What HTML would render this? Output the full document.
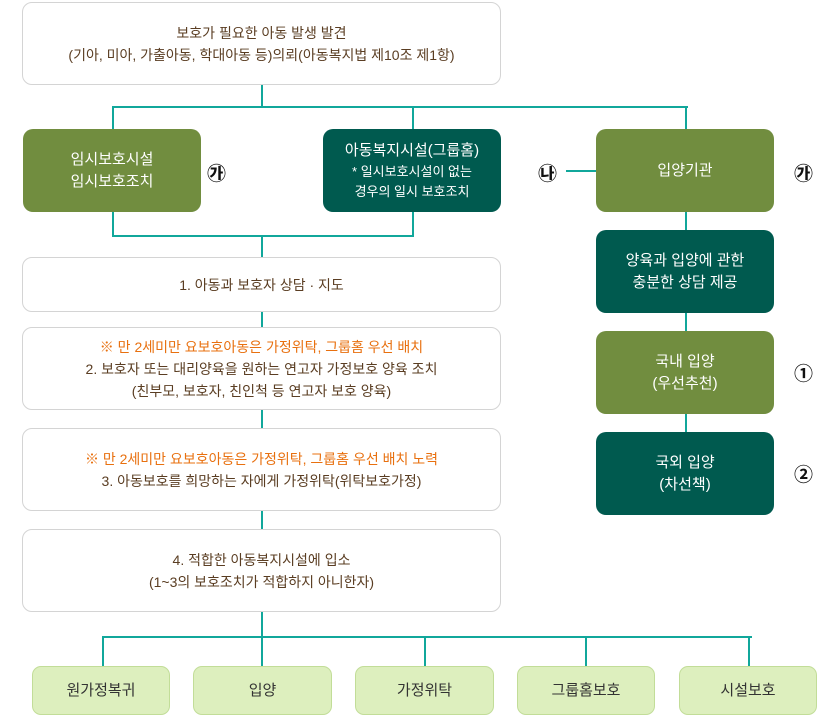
<!DOCTYPE html>
<html><head><meta charset="utf-8"><style>
body{margin:0;width:840px;height:722px;background:#fff;position:relative;font-family:"Liberation Sans","Noto Sans CJK KR",sans-serif;overflow:hidden}
.b{position:absolute;box-sizing:border-box;display:flex;align-items:center;justify-content:center;text-align:center;border-radius:10px;font-size:14px;line-height:22px}
.w{border:1px solid #d4d4d4;color:#5a3d22;background:#fff}
.o{background:#718d3f;color:#fff;font-size:15px}
.t{background:#005a4f;color:#fff;font-size:15px}
.l{background:#ddefbe;border:1px solid #c2dd98;color:#333;font-size:15px;border-radius:9px}
.h{position:absolute;background:#11a79b;height:2px}
.v{position:absolute;background:#11a79b;width:2px}
.c{position:absolute;font-size:19px;color:#111;font-weight:bold}
.or{color:#e8700f}
</style></head><body>
<div class="v" style="left:261px;top:84px;height:24px"></div>
<div class="h" style="left:112px;top:106px;width:576px"></div>
<div class="v" style="left:112px;top:106px;height:24px"></div>
<div class="v" style="left:412px;top:106px;height:24px"></div>
<div class="v" style="left:685px;top:106px;height:24px"></div>
<div class="v" style="left:112px;top:211px;height:26px"></div>
<div class="v" style="left:412px;top:211px;height:26px"></div>
<div class="h" style="left:112px;top:235px;width:302px"></div>
<div class="v" style="left:261px;top:235px;height:432px"></div>
<div class="h" style="left:566px;top:170px;width:31px"></div>
<div class="v" style="left:685px;top:211px;height:300px"></div>
<div class="h" style="left:102px;top:636px;width:650px"></div>
<div class="v" style="left:102px;top:636px;height:31px"></div>
<div class="v" style="left:424px;top:636px;height:31px"></div>
<div class="v" style="left:585px;top:636px;height:31px"></div>
<div class="v" style="left:748px;top:636px;height:31px"></div>

<div class="b w" style="left:22px;top:2px;width:479px;height:83px">보호가 필요한 아동 발생 발견<br>(기아, 미아, 가출아동, 학대아동 등)의뢰(아동복지법 제10조 제1항)</div>
<div class="b o" style="left:23px;top:129px;width:178px;height:83px">임시보호시설<br>임시보호조치</div>
<div class="c" style="left:207px;top:159px">㉮</div>
<div class="b t" style="left:323px;top:129px;width:178px;height:83px;flex-direction:column"><div>아동복지시설(그룹홈)</div><div style="font-size:13px;line-height:20px">* 일시보호시설이 없는<br>경우의 일시 보호조치</div></div>
<div class="c" style="left:538px;top:159px">㉯</div>
<div class="b o" style="left:596px;top:129px;width:178px;height:83px">입양기관</div>
<div class="c" style="left:794px;top:159px">㉮</div>
<div class="b t" style="left:596px;top:230px;width:178px;height:83px">양육과 입양에 관한<br>충분한 상담 제공</div>
<div class="b o" style="left:596px;top:331px;width:178px;height:83px">국내 입양<br>(우선추천)</div>
<div class="c" style="left:794px;top:359px">①</div>
<div class="b t" style="left:596px;top:432px;width:178px;height:83px">국외 입양<br>(차선책)</div>
<div class="c" style="left:794px;top:460px">②</div>

<div class="b w" style="left:22px;top:257px;width:479px;height:55px">1. 아동과 보호자 상담 · 지도</div>
<div class="b w" style="left:22px;top:327px;width:479px;height:83px"><div><span class="or">※ 만 2세미만 요보호아동은 가정위탁, 그룹홈 우선 배치</span><br>2. 보호자 또는 대리양육을 원하는 연고자 가정보호 양육 조치<br>(친부모, 보호자, 친인척 등 연고자 보호 양육)</div></div>
<div class="b w" style="left:22px;top:428px;width:479px;height:83px"><div><span class="or">※ 만 2세미만 요보호아동은 가정위탁, 그룹홈 우선 배치 노력</span><br>3. 아동보호를 희망하는 자에게 가정위탁(위탁보호가정)</div></div>
<div class="b w" style="left:22px;top:529px;width:479px;height:83px">4. 적합한 아동복지시설에 입소<br>(1~3의 보호조치가 적합하지 아니한자)</div>

<div class="b l" style="left:32px;top:666px;width:138px;height:49px">원가정복귀</div>
<div class="b l" style="left:193px;top:666px;width:139px;height:49px">입양</div>
<div class="b l" style="left:355px;top:666px;width:139px;height:49px">가정위탁</div>
<div class="b l" style="left:517px;top:666px;width:138px;height:49px">그룹홈보호</div>
<div class="b l" style="left:679px;top:666px;width:138px;height:49px">시설보호</div>
</body></html>
